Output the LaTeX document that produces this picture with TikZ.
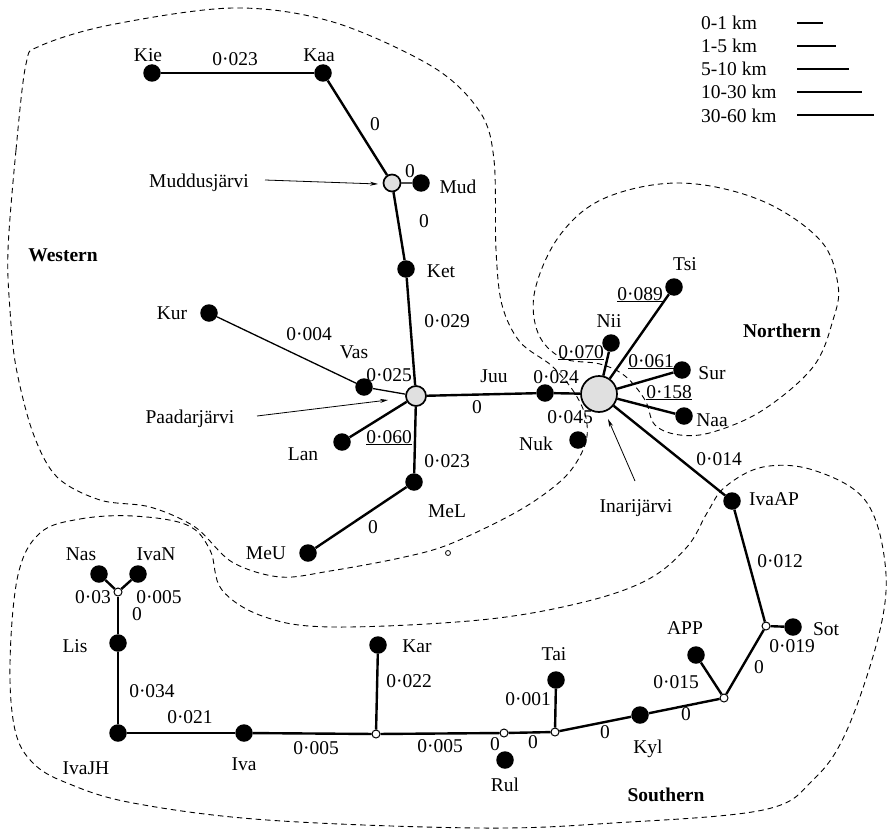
\documentclass[tikz,border=0pt]{standalone}
\usepackage{fontspec}
\setmainfont{Liberation Serif}
\usetikzlibrary{arrows.meta}
\begin{document}
\begin{tikzpicture}[x=1pt,y=-1pt,
  font=\fontsize{19.5}{22}\selectfont,
  pop/.style={circle,fill=black,inner sep=0pt,minimum size=17.5pt},
  lake/.style={circle,draw=black,fill=black!12,line width=1.7pt,inner sep=0pt},
  junc/.style={circle,draw=black,fill=white,line width=1pt,inner sep=0pt,minimum size=8pt},
  txt/.style={anchor=base,inner sep=0pt},
  bold txt/.style={anchor=base,inner sep=0pt,font=\fontsize{19.5}{22}\selectfont\bfseries},
  edgeA/.style={line width=2.4pt},
  edgeB/.style={line width=1.3pt},
  region/.style={line width=0.9pt,dash pattern=on 5.5pt off 4pt},
  pointer/.style={line width=0.8pt,-{Stealth[length=8pt,width=4pt]}},
  legline/.style={line width=1.4pt}
]
\useasboundingbox (0,0) rectangle (888,832);

% ---------- region outlines ----------
\draw[region] plot[smooth cycle,tension=0.55] coordinates {
  (26,64) (16,150) (8,250) (10,310) (16,367) (33,433) (57,477) (100,500) (150,507)
  (195,527) (232,562) (280,577) (330,571) (400,558) (450,544) (520,510) (565,477)
  (585,445) (586,418) (574,392) (552,366) (520,342) (502,305) (496,250) (494,160)
  (480,112) (433,67) (333,22) (233,8) (110,25) (40,46)};
\draw[region] plot[smooth cycle,tension=0.6] coordinates {
  (680,183) (760,200) (820,240) (838,285) (833,320) (813,367) (763,410) (713,432)
  (680,435) (655,425) (645,400) (625,376) (600,364) (562,358) (538,333) (535,290)
  (560,235) (605,198)};
\draw[region] plot[smooth cycle,tension=0.6] coordinates {
  (40,533) (80,519) (133,516) (187,525) (210,550) (222,590) (265,617) (333,627)
  (480,620) (580,603) (647,580) (687,547) (707,513) (725,487) (763,467) (813,470)
  (865,500) (885,563) (880,630) (847,730) (813,780) (763,810) (613,823) (480,828)
  (267,820) (133,803) (67,783) (33,763) (15,730) (10,663) (18,575)};

% ---------- nodes ----------
\node[pop] (Kie) at (152,73) {};
\node[pop] (Kaa) at (323,73) {};
\node[lake,minimum size=17pt] (Muddus) at (392,183) {};
\node[pop] (Mud) at (421,183) {};
\node[pop] (Ket) at (406,269) {};
\node[pop] (Kur) at (209,313) {};
\node[pop] (Vas) at (364,387) {};
\node[lake,minimum size=20pt] (Paa) at (416,396) {};
\node[pop] (Lan) at (342,442) {};
\node[pop] (MeL) at (414,482) {};
\node[pop] (MeU) at (308,553) {};
\node[pop] (Juu) at (545,393) {};
\node[lake,minimum size=36pt] (Inari) at (599,394) {};
\node[pop] (Tsi) at (674,287) {};
\node[pop] (Nii) at (611,343) {};
\node[pop] (Sur) at (682,370) {};
\node[pop] (Naa) at (684,416) {};
\node[pop] (Nuk) at (578,440) {};
\node[pop] (IvaAP) at (732,501) {};
\node[junc] (J1) at (766,626) {};
\node[pop] (Sot) at (793,627) {};
\node[junc] (J2) at (724,698) {};
\node[pop] (APP) at (696,655) {};
\node[pop] (Kyl) at (640,715) {};
\node[junc] (J3) at (555,732) {};
\node[pop] (Tai) at (556,680) {};
\node[junc] (J4) at (504,733) {};
\node[pop] (Rul) at (505,760) {};
\node[junc] (J5) at (376,734) {};
\node[pop] (Kar) at (378,645) {};
\node[pop] (Iva) at (244,733) {};
\node[pop] (IvaJH) at (118,733) {};
\node[pop] (Lis) at (118,643) {};
\node[junc] (J6) at (118,592) {};
\node[pop] (Nas) at (99,574) {};
\node[pop] (IvaN) at (138,574) {};
\node[circle,draw=black,line width=0.8pt,inner sep=0pt,minimum size=5pt] (small) at (448,553) {};

% ---------- edges ----------
\draw[edgeA] (Kie) -- (Kaa);
\draw[edgeA] (Kaa) -- (Muddus);
\draw[line width=1.8pt,black!70] (Muddus) -- (Mud);
\draw[edgeA] (Muddus) -- (Ket);
\draw[edgeA] (Ket) -- (Paa);
\draw[edgeB] (Kur) -- (Vas);
\draw[edgeB] (Vas) -- (Paa);
\draw[edgeA] (Lan) -- (Paa);
\draw[edgeA] (Paa) -- (MeL);
\draw[edgeA] (MeL) -- (MeU);
\draw[edgeA] (Paa) -- (Juu);
\draw[edgeA] (Juu) -- (Inari);
\draw[edgeA] (Inari) -- (Nii);
\draw[edgeA] (Inari) -- (Tsi);
\draw[edgeA] (Inari) -- (Sur);
\draw[edgeA] (Inari) -- (Naa);
\draw[edgeA] (Inari) -- (IvaAP);
\draw[edgeA] (IvaAP) -- (J1);
\draw[edgeA] (J1) -- (Sot);
\draw[edgeA] (J1) -- (J2);
\draw[edgeA] (J2) -- (APP);
\draw[edgeA] (J2) -- (Kyl);
\draw[edgeA] (Kyl) -- (J3);
\draw[edgeA] (J3) -- (Tai);
\draw[edgeA] (J3) -- (J4);
\draw[edgeA] (J4) -- (J5);
\draw[edgeA] (J5) -- (Kar);
\draw[edgeA] (J5) -- (Iva);
\draw[edgeA] (Iva) -- (IvaJH);
\draw[edgeA] (IvaJH) -- (Lis);
\draw[edgeA] (Lis) -- (J6);
\draw[edgeA] (J6) -- (Nas);
\draw[edgeA] (J6) -- (IvaN);

% ---------- population labels ----------
\node[txt] (tKie) at (148,62) {Kie};
\node[txt] (tKaa) at (319,62) {Kaa};
\node[txt] (tMud) at (458,193) {Mud};
\node[txt] (tKet) at (441,277) {Ket};
\node[txt] (tKur) at (172,319) {Kur};
\node[txt] (tVas) at (354,358) {Vas};
\node[txt] (tLan) at (303,460) {Lan};
\node[txt] (tMeL) at (447,517) {MeL};
\node[txt] (tMeU) at (266,559) {MeU};
\node[txt] (tJuu) at (494,382) {Juu};
\node[txt] (tTsi) at (685,270) {Tsi};
\node[txt] (tNii) at (609,327) {Nii};
\node[txt] (tSur) at (712,379) {Sur};
\node[txt] (tNaa) at (712,426) {Naa};
\node[txt] (tNuk) at (536,450) {Nuk};
\node[txt] (tIvaAP) at (774,505) {IvaAP};
\node[txt] (tSot) at (826,635) {Sot};
\node[txt] (tAPP) at (685,634) {APP};
\node[txt] (tKyl) at (648,753) {Kyl};
\node[txt] (tTai) at (554,660) {Tai};
\node[txt] (tRul) at (505,791) {Rul};
\node[txt] (tKar) at (417,652) {Kar};
\node[txt] (tIva) at (244,770) {Iva};
\node[txt] (tIvaJH) at (86,774) {IvaJH};
\node[txt] (tLis) at (75,652) {Lis};
\node[txt] (tNas) at (81,560) {Nas};
\node[txt] (tIvaN) at (156,560) {IvaN};

% ---------- distance labels ----------
\node[txt] (d1) at (235,66) {0·023};
\node[txt] (d2) at (375,130) {0};
\node[txt] (d3) at (410,177) {0};
\node[txt] (d4) at (424,227) {0};
\node[txt] (d5) at (447,327) {0·029};
\node[txt] (d6) at (309,340) {0·004};
\node[txt] (d7) at (389,381) {0·025};
\node[txt] (d8) at (389,443) {\underline{0·060}};
\node[txt] (d9) at (447,467) {0·023};
\node[txt] (d10) at (373,533) {0};
\node[txt] (d11) at (477,413) {0};
\node[txt] (d12) at (556,383) {0·024};
\node[txt] (d13) at (640,300) {\underline{0·089}};
\node[txt] (d14) at (581,358) {\underline{0·070}};
\node[txt] (d15) at (651,367) {\underline{0·061}};
\node[txt] (d16) at (669,398) {\underline{0·158}};
\node[txt] (d17) at (570,423) {0·045};
\node[txt] (d18) at (719,465) {0·014};
\node[txt] (d19) at (780,567) {0·012};
\node[txt] (d20) at (792,652) {0·019};
\node[txt] (d21) at (759,673) {0};
\node[txt] (d22) at (676,688) {0·015};
\node[txt] (d23) at (686,720) {0};
\node[txt] (d24) at (605,738) {0};
\node[txt] (d25) at (528,705) {0·001};
\node[txt] (d26) at (533,748) {0};
\node[txt] (d27) at (495,750) {0};
\node[txt] (d28) at (440,752) {0·005};
\node[txt] (d29) at (409,687) {0·022};
\node[txt] (d30) at (316,754) {0·005};
\node[txt] (d31) at (190,723) {0·021};
\node[txt] (d32) at (152,697) {0·034};
\node[txt] (d33) at (137,620) {0};
\node[txt] (d34) at (93,603) {0·03};
\node[txt] (d35) at (159,603) {0·005};

% ---------- lake annotations ----------
\node[txt] (nMuddus) at (199,187) {Muddusjärvi};
\coordinate (aMuddus) at (378,184);
\draw[pointer] (265,180) -- (aMuddus);
\node[txt] (nPaa) at (190,423) {Paadarjärvi};
\coordinate (aPaa) at (388,400);
\draw[pointer] (257,416) -- (aPaa);
\node[txt] (nInari) at (636,512) {Inarijärvi};
\coordinate (aInari) at (608,419);
\draw[pointer] (635,481) -- (aInari);

% ---------- region names ----------
\node[bold txt] (rW) at (63,261) {Western};
\node[bold txt] (rN) at (782,337) {Northern};
\node[bold txt] (rS) at (666,801) {Southern};

% ---------- legend ----------
\node[txt,anchor=base west] (k1) at (701,30) {0-1 km};
\node[txt,anchor=base west] (k2) at (701,53) {1-5 km};
\node[txt,anchor=base west] (k3) at (701,76) {5-10 km};
\node[txt,anchor=base west] (k4) at (701,99) {10-30 km};
\node[txt,anchor=base west] (k5) at (701,122) {30-60 km};
\coordinate (s1) at (797,23); \coordinate (e1) at (823,23);
\coordinate (s2) at (797,46); \coordinate (e2) at (836,46);
\coordinate (s3) at (797,69); \coordinate (e3) at (849,69);
\coordinate (s4) at (797,92); \coordinate (e4) at (862,92);
\coordinate (s5) at (797,115); \coordinate (e5) at (874,115);
\draw[legline] (s1) -- (e1);
\draw[legline] (s2) -- (e2);
\draw[legline] (s3) -- (e3);
\draw[legline] (s4) -- (e4);
\draw[legline] (s5) -- (e5);
\end{tikzpicture}
\end{document}
